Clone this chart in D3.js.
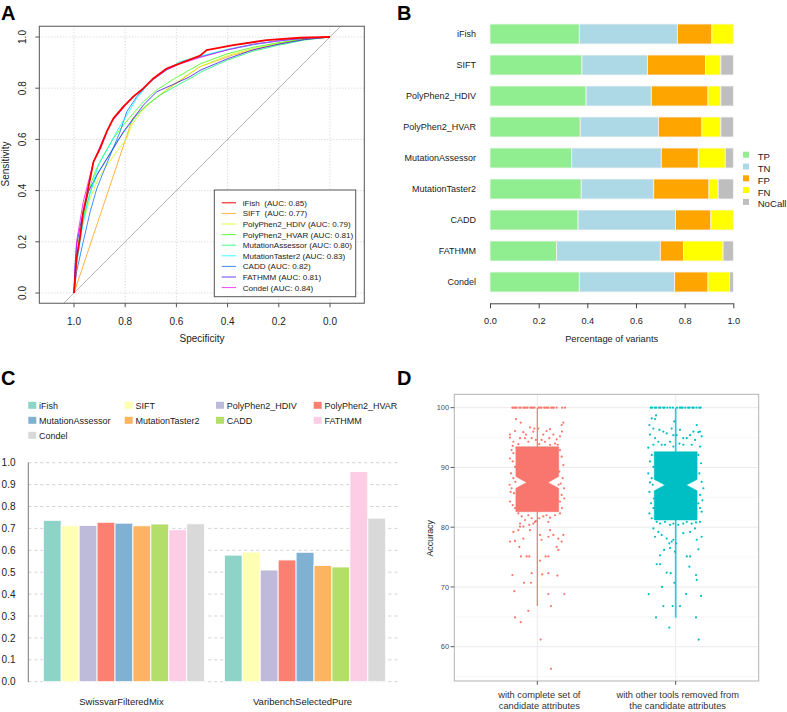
<!DOCTYPE html>
<html><head><meta charset="utf-8">
<script src="https://cdn.jsdelivr.net/npm/d3@7/dist/d3.min.js"></script>
<style>body{margin:0;background:#fff}svg{display:block;font-family:"Liberation Sans",Arial,sans-serif}</style>
</head><body><svg id="c" width="787" height="712"></svg>
<script>
// ---------------- DATA ----------------
// Panel A: ROC curves [specificity, sensitivity]
const rocTools = ["iFish","SIFT","PolyPhen2_HDIV","PolyPhen2_HVAR","MutationAssessor","MutationTaster2","CADD","FATHMM","Condel"];
const rocAUC = ["0.85","0.77","0.79","0.81","0.80","0.83","0.82","0.81","0.84"];
const rocIfish = [[1,0],[0.99,0.134],[0.977,0.213],[0.964,0.317],[0.95,0.382],[0.924,0.512],[0.898,0.565],[0.872,0.63],[0.846,0.682],[0.807,0.728],[0.768,0.767],[0.729,0.799],[0.69,0.838],[0.638,0.877],[0.586,0.897],[0.507,0.927],[0.482,0.949],[0.378,0.968],[0.247,0.988],[0.117,0.997],[0,1]];
const rocSift = [[1,0],[0.771,0.682],[0.72,0.73],[0.638,0.793],[0.508,0.884],[0.378,0.93],[0.247,0.963],[0.117,0.99],[0,1]];
const rocHdiv = [[1,0],[0.99,0.147],[0.964,0.278],[0.937,0.369],[0.905,0.447],[0.872,0.499],[0.833,0.552],[0.794,0.604],[0.775,0.656],[0.742,0.702],[0.69,0.754],[0.625,0.805],[0.56,0.85],[0.507,0.884],[0.4,0.928],[0.3,0.955],[0.2,0.975],[0.1,0.992],[0,1]];
const rocHvar = [[1,0],[0.99,0.16],[0.97,0.265],[0.944,0.395],[0.918,0.473],[0.885,0.538],[0.846,0.604],[0.807,0.656],[0.768,0.702],[0.729,0.747],[0.677,0.793],[0.612,0.835],[0.547,0.872],[0.507,0.895],[0.4,0.935],[0.3,0.96],[0.2,0.978],[0.1,0.993],[0,1]];
const rocMa = [[1,0],[0.99,0.134],[0.964,0.291],[0.937,0.395],[0.905,0.473],[0.872,0.525],[0.833,0.591],[0.794,0.643],[0.755,0.695],[0.716,0.734],[0.664,0.773],[0.599,0.81],[0.534,0.845],[0.507,0.862],[0.4,0.91],[0.3,0.945],[0.2,0.968],[0.1,0.988],[0,1]];
const rocMt2 = [[1,0],[0.99,0.108],[0.97,0.239],[0.95,0.343],[0.924,0.434],[0.905,0.5],[0.872,0.558],[0.833,0.63],[0.794,0.695],[0.755,0.76],[0.703,0.825],[0.651,0.864],[0.586,0.904],[0.507,0.925],[0.4,0.952],[0.3,0.972],[0.2,0.986],[0.1,0.995],[0,1]];
const rocCadd = [[1,0],[0.99,0.082],[0.964,0.2],[0.937,0.317],[0.911,0.408],[0.885,0.473],[0.853,0.552],[0.82,0.63],[0.794,0.708],[0.755,0.767],[0.703,0.825],[0.638,0.871],[0.573,0.904],[0.507,0.923],[0.4,0.95],[0.3,0.97],[0.2,0.985],[0.1,0.995],[0,1]];
const rocFathmm = [[1,0],[0.996,0.108],[0.99,0.186],[0.97,0.291],[0.944,0.395],[0.911,0.46],[0.879,0.512],[0.846,0.565],[0.807,0.63],[0.768,0.682],[0.729,0.734],[0.677,0.786],[0.612,0.815],[0.547,0.845],[0.507,0.87],[0.4,0.915],[0.3,0.95],[0.2,0.972],[0.1,0.99],[0,1]];
const rocCondel = [[1,0],[0.99,0.2],[0.964,0.356],[0.924,0.512],[0.885,0.604],[0.853,0.669],[0.82,0.708],[0.768,0.77],[0.729,0.8],[0.69,0.835],[0.638,0.872],[0.586,0.895],[0.507,0.92],[0.4,0.95],[0.3,0.972],[0.2,0.985],[0.1,0.995],[0,1]];
const rocCurves = [rocIfish,rocSift,rocHdiv,rocHvar,rocMa,rocMt2,rocCadd,rocFathmm,rocCondel];
const rocColors = ["#FF0000","#FF9900","#CCFF00","#33FF00","#00FF66","#00FFFF","#0066FF","#3300FF","#EE00FF"];
const rocTicks = [0,0.2,0.4,0.6,0.8,1.0];

// Panel B: stacked proportions
const bTools = ["iFish","SIFT","PolyPhen2_HDIV","PolyPhen2_HVAR","MutationAssessor","MutationTaster2","CADD","FATHMM","Condel"];
const bTP     = [0.367,0.378,0.395,0.371,0.336,0.375,0.362,0.273,0.367];
const bTN     = [0.403,0.269,0.268,0.321,0.368,0.298,0.400,0.427,0.392];
const bFP     = [0.142,0.239,0.233,0.179,0.152,0.227,0.146,0.095,0.137];
const bFN     = [0.088,0.063,0.053,0.078,0.111,0.038,0.092,0.163,0.089];
const bNoCall = [0.000,0.051,0.051,0.051,0.033,0.062,0.000,0.042,0.015];
const bKeys = ["TP","TN","FP","FN","NoCall"];
const bColors = ["#90EE90","#ADD8E6","#FFA500","#FFFF00","#BEBEBE"];
const bTicks = [0,0.2,0.4,0.6,0.8,1.0];

// Panel C: grouped bars
const cDatasets = ["SwissvarFilteredMix","VaribenchSelectedPure"];
const cTools = ["iFish","SIFT","PolyPhen2_HDIV","PolyPhen2_HVAR","MutationAssessor","MutationTaster2","CADD","FATHMM","Condel"];
const cSwissvar  = [0.737,0.712,0.714,0.728,0.724,0.712,0.720,0.694,0.721];
const cVaribench = [0.578,0.592,0.510,0.556,0.591,0.531,0.524,0.960,0.747];
const cColors = ["#8DD3C7","#FFFFB3","#BEBADA","#FB8072","#80B1D3","#FDB462","#B3DE69","#FCCDE5","#D9D9D9"];
const cTicks = [0,0.1,0.2,0.3,0.4,0.5,0.6,0.7,0.8,0.9,1.0];

// Panel D: notched boxplots + jittered points
const dGroups = [["with complete set of","candidate attributes"],["with other tools removed from","the candidate attributes"]];
const dColors = ["#F8766D","#00BFC4"];
const dQ1 = [82.6,81.2], dMedian = [87.5,87.05], dQ3 = [93.47,92.63];
const dNotchLo = [86.5,86.1], dNotchHi = [88.5,88.0];
const dWhiskLo = [66.8,64.85], dWhiskHi = [100,100];
const dTicks = [60,70,80,90,100];
const dMinor = [55,65,75,85,95];
const dTop1 = [-0.18,-0.17,-0.16,-0.15,-0.13,-0.12,-0.10,-0.09,-0.08,-0.07,-0.05,-0.04,-0.03,-0.02,0.01,0.02,0.03,0.05,0.06,0.07,0.08,0.10,0.11,0.12,0.14,0.18,0.20];
const dPts1 = [[-0.154,98.1],[-0.12,97.5],[-0.161,96.1],[-0.198,95.5],[-0.053,96.7],[-0.022,96.5],[-0.101,95.9],[-0.082,95.5],[-0.029,96.0],[0.007,96.5],[0.043,95.5],[0.067,96.1],[0.092,96.4],[0.116,95.5],[0.14,94.7],[0.176,97.1],[0.188,97.5],[0.178,96.0],[0.164,95.2],[-0.125,94.9],[-0.089,94.9],[-0.041,94.9],[-0.01,94.6],[0.031,94.6],[0.055,94.3],[0.087,94.9],[0.128,94.0],[-0.173,94.3],[-0.137,93.9],[-0.065,94.3],[0.014,93.9],[0.092,93.8],[0.147,93.8],[-0.178,93.6],[-0.198,95.0],
[-0.186,92.9],[-0.173,92.4],[-0.198,91.5],[-0.178,91.0],[-0.161,90.1],[-0.19,89.0],[-0.173,88.2],[-0.2,87.1],[-0.186,86.5],[-0.169,85.7],[-0.198,84.3],[-0.178,83.7],[-0.161,83.2],[-0.193,85.9],[-0.159,87.6],
[0.164,92.9],[0.176,91.8],[0.188,90.4],[0.159,89.3],[0.183,88.2],[0.169,87.3],[0.193,86.5],[0.176,85.4],[0.164,84.3],[0.195,84.8],[0.178,83.2],[0.154,87.1],
[-0.137,82.3],[-0.113,81.8],[-0.089,81.2],[-0.065,82.0],[-0.041,81.5],[-0.017,80.9],[0.014,81.5],[0.043,81.8],[0.067,82.0],[0.092,81.6],[0.128,82.0],[0.164,82.3],[-0.125,80.6],[-0.101,80.1],[-0.058,80.4],[-0.029,80.6],[-0.01,81.0],[0.08,80.9],[-0.125,80.1],[-0.173,79.2],[-0.137,79.5],[-0.101,78.1],[-0.161,77.7],[-0.198,77.6],[-0.13,76.7],[0.019,78.7],[0.031,77.9],[0.092,79.5],[0.116,78.7],[0.152,78.1],[0.188,78.7],[0.176,77.6],[0.14,76.7],[0.152,76.2],[0.08,78.4],[-0.053,79.5],[-0.077,75.1],[-0.118,75.1],[-0.058,75.1],[0.019,74.4],[0.06,75.1],[0.08,75.1],[-0.18,72.0],[-0.096,70.7],[-0.046,70.7],[-0.041,72.3],[0.036,72.1],[0.08,72.3],[0.145,71.9],[-0.166,69.3],[0.08,68.8],[0.195,68.8],[0.099,66.8],[-0.065,66.0],[-0.161,64.9],[-0.12,64.1],[0.024,61.2],[0.099,56.3]];
const dTop2 = [-0.18,-0.17,-0.15,-0.14,-0.12,-0.11,-0.09,-0.08,-0.06,-0.04,-0.02,0.01,0.03,0.04,0.05,0.07,0.09,0.10,0.12,0.13,0.15,0.17,0.18];
const dPts2 = [[-0.173,98.2],[-0.142,98.7],[-0.149,98.1],[-0.19,97.1],[-0.161,96.5],[-0.118,96.3],[-0.089,96.0],[-0.01,97.7],[-0.029,96.5],[-0.065,95.7],[-0.186,95.5],[-0.149,94.9],[-0.125,94.3],[-0.101,93.8],[-0.041,94.3],[-0.017,95.4],[0.007,95.4],[0.031,96.3],[0.055,94.9],[0.08,94.9],[0.104,95.4],[0.128,96.0],[0.152,97.1],[0.164,95.9],[0.176,96.0],[0.14,94.6],[0.176,93.5],[0.116,93.8],[0.055,93.8],[-0.161,93.8],[-0.198,93.3],[-0.077,93.8],[-0.017,93.5],[0.027,94.0],[0.188,95.2],
[-0.173,92.1],[-0.186,91.0],[-0.161,90.1],[-0.198,89.0],[-0.173,88.2],[-0.186,87.5],[-0.166,87.1],[-0.19,85.9],[-0.157,84.8],[-0.178,84.0],[-0.161,83.2],[-0.19,82.3],[-0.173,81.5],
[0.164,92.1],[0.183,90.7],[0.171,89.0],[0.188,87.6],[0.2,86.5],[0.176,85.4],[0.193,84.5],[0.164,84.0],[0.176,83.2],[0.188,82.6],
[-0.137,80.9],[-0.113,80.6],[-0.077,80.9],[-0.041,80.4],[-0.017,80.6],[0.019,80.4],[0.055,80.6],[0.08,80.9],[0.116,80.6],[0.147,80.8],[0.176,80.9],[-0.161,79.8],[-0.125,79.2],[-0.101,78.7],[-0.065,78.1],[-0.029,77.6],[0.002,77.3],[-0.149,78.4],[0.055,79.0],[0.104,79.2],[0.14,79.8],[0.152,77.9],[0.188,78.4],[-0.017,77.9],[-0.046,77.3],[-0.113,75.3],[-0.084,76.2],[-0.041,76.5],[-0.005,75.9],[0.08,75.1],[0.104,75.1],[0.164,76.3],[-0.137,73.8],[-0.113,73.8],[-0.065,72.4],[-0.036,72.3],[0.099,73.4],[0.147,72.0],[0.152,71.2],[-0.01,70.7],[-0.099,70.0],[-0.195,68.8],[0.075,68.8],[0.183,68.5],[-0.089,66.8],[-0.022,66.8],[0.031,66.8],[-0.142,64.9],[0.147,64.9],[-0.046,63.2],[0.166,61.2]];

// ---------------- DRAW ----------------
const svg = d3.select("#c");
const FONT = '"Liberation Sans",Arial,sans-serif';
function panelLabel(t,x,y){svg.append("text").attr("x",x).attr("y",y).attr("font-size",20).attr("font-weight","bold").attr("fill","#000").text(t);}
panelLabel("A",1,20); panelLabel("B",397,20); panelLabel("C",1,385); panelLabel("D",397,385);

// ===== Panel A =====
(function(){
  const g = svg.append("g");
  const x = d3.scaleLinear().domain([1,0]).range([74,330]);
  const y = d3.scaleLinear().domain([0,1]).range([293,37]);
  const bx0 = x(1.1355), bx1 = x(-0.134), by0 = y(1.042), by1 = y(-0.04);
  svg.append("defs").append("clipPath").attr("id","clipA").append("rect")
    .attr("x",bx0).attr("y",by0).attr("width",bx1-bx0).attr("height",by1-by0);
  g.selectAll(".gv").data(rocTicks).join("line").attr("x1",d=>x(d)).attr("x2",d=>x(d))
    .attr("y1",by0).attr("y2",by1).attr("stroke","#cfcfcf").attr("stroke-dasharray","1,2");
  g.selectAll(".gh").data(rocTicks).join("line").attr("y1",d=>y(d)).attr("y2",d=>y(d))
    .attr("x1",bx0).attr("x2",bx1).attr("stroke","#cfcfcf").attr("stroke-dasharray","1,2");
  g.append("line").attr("clip-path","url(#clipA)")
    .attr("x1",x(1.3)).attr("y1",y(-0.3)).attr("x2",x(-0.3)).attr("y2",y(1.3))
    .attr("stroke","#b0b0b0").attr("stroke-width",0.9);
  const line = d3.line().x(d=>x(d[0])).y(d=>y(d[1]));
  const order = [1,2,3,4,7,6,5,8,0];
  order.forEach(i=>{
    g.append("path").attr("d",line(rocCurves[i])).attr("fill","none")
      .attr("stroke",rocColors[i]).attr("stroke-opacity",i===0?1:0.75)
      .attr("stroke-width",i===0?1.8:1).attr("stroke-linejoin","round");
  });
  g.append("rect").attr("x",bx0).attr("y",by0).attr("width",bx1-bx0).attr("height",by1-by0)
    .attr("fill","none").attr("stroke","#555").attr("stroke-width",1);
  // axes
  g.selectAll(".tb").data(rocTicks).join("line").attr("x1",d=>x(d)).attr("x2",d=>x(d))
    .attr("y1",by1).attr("y2",by1+4).attr("stroke","#555");
  g.selectAll(".tbl").data(rocTicks).join("text").attr("x",d=>x(d)).attr("y",324.5)
    .attr("text-anchor","middle").attr("font-size",10).attr("fill","#222").text(d=>d3.format(".1f")(d));
  g.selectAll(".tl").data(rocTicks).join("line").attr("y1",d=>y(d)).attr("y2",d=>y(d))
    .attr("x1",bx0).attr("x2",bx0-4).attr("stroke","#555");
  g.selectAll(".tll").data(rocTicks).join("text")
    .attr("transform",d=>`translate(26.2,${y(d)}) rotate(-90)`)
    .attr("text-anchor","middle").attr("font-size",10).attr("fill","#222").text(d=>d3.format(".1f")(d));
  g.append("text").attr("x",202).attr("y",341.5).attr("text-anchor","middle").attr("font-size",10).attr("fill","#222").text("Specificity");
  g.append("text").attr("transform","translate(8.5,164) rotate(-90)").attr("text-anchor","middle").attr("font-size",10).attr("fill","#222").text("Sensitivity");
  // legend
  const lg = g.append("g");
  lg.append("rect").attr("x",214.3).attr("y",190).attr("width",141.4).attr("height",106.7)
    .attr("fill","#fff").attr("stroke","#555").attr("stroke-width",1);
  rocTools.forEach((t,i)=>{
    const yy = 202.8 + i*10.6;
    lg.append("line").attr("x1",221.7).attr("x2",236).attr("y1",yy).attr("y2",yy)
      .attr("stroke",rocColors[i]).attr("stroke-opacity",i===0?1:0.75).attr("stroke-width",1);
    const sep = (i<2) ? "  " : " ";
    lg.append("text").attr("x",242.7).attr("y",yy+3).attr("font-size",8.1).attr("fill","#222")
      .attr("xml:space","preserve").style("white-space","pre").text(t+sep+"(AUC: "+rocAUC[i]+")");
  });
})();

// ===== Panel B =====
(function(){
  const g = svg.append("g");
  const x = d3.scaleLinear().domain([0,1]).range([490,733.3]);
  const y = d3.scaleBand().domain(bTools).range([18.5,297.5]).paddingInner(0.355).paddingOuter(0.1775);
  const rows = bTools.map((t,i)=>({tool:t,TP:bTP[i],TN:bTN[i],FP:bFP[i],FN:bFN[i],NoCall:bNoCall[i]}));
  const series = d3.stack().keys(bKeys)(rows);
  series.forEach((s,k)=>{
    g.selectAll(null).data(s).join("rect")
      .attr("x",d=>x(d[0])).attr("width",d=>Math.max(0,x(d[1])-x(d[0])))
      .attr("y",d=>y(d.data.tool)).attr("height",y.bandwidth())
      .attr("fill",bColors[k]).attr("stroke","#f4f4f4").attr("stroke-width",0.8);
  });
  g.selectAll(".lab").data(bTools).join("text").attr("x",476).attr("y",d=>y(d)+y.bandwidth()/2+3.2)
    .attr("text-anchor","end").attr("font-size",9).attr("fill","#222").text(d=>d);
  const ax = g.append("g").attr("transform","translate(0,303.3)")
    .call(d3.axisBottom(x).tickValues(bTicks).tickFormat(d3.format(".1f")).tickSize(5).tickPadding(9).tickSizeOuter(0));
  ax.select(".domain").attr("stroke","#444");
  ax.selectAll(".tick line").attr("stroke","#444");
  ax.selectAll("text").attr("font-size",9.2).attr("fill","#222").attr("font-family",FONT);
  g.append("text").attr("x",611.7).attr("y",341.5).attr("text-anchor","middle").attr("font-size",9.3).attr("fill","#222").text("Percentage of variants");
  bKeys.forEach((k,i)=>{
    const yy = 156.7 + i*11.8;
    g.append("rect").attr("x",743).attr("y",yy-5).attr("width",6).attr("height",6).attr("fill",bColors[i]);
    g.append("text").attr("x",757.7).attr("y",yy+3.4).attr("font-size",9.6).attr("fill","#222").text(k);
  });
})();

// ===== Panel C =====
(function(){
  const g = svg.append("g");
  const y = d3.scaleLinear().domain([0,1]).range([681.7,462.7]);
  const x0 = d3.scaleBand().domain(cDatasets).range([28.8,400.2]).paddingInner(0.109).paddingOuter(0.08);
  const x1 = d3.scaleBand().domain(cTools).range([0,x0.bandwidth()]);
  g.selectAll(".grid").data(cTicks).join("line").attr("x1",28.3).attr("x2",398)
    .attr("y1",d=>y(d)).attr("y2",d=>y(d)).attr("stroke","#cccccc").attr("stroke-width",0.9).attr("stroke-dasharray","3,3");
  const vals = [cSwissvar,cVaribench];
  cDatasets.forEach((ds,j)=>{
    g.selectAll(null).data(cTools).join("rect")
      .attr("x",t=>x0(ds)+x1(t)).attr("width",x1.bandwidth())
      .attr("y",(t,i)=>y(vals[j][i])).attr("height",(t,i)=>y(0)-y(vals[j][i]))
      .attr("fill",(t,i)=>cColors[i]).attr("stroke","#fff").attr("stroke-width",0.9);
  });
  g.append("line").attr("x1",28.3).attr("x2",28.3).attr("y1",462.5).attr("y2",682).attr("stroke","#777").attr("stroke-width",1);
  g.selectAll(".tl").data(cTicks).join("text").attr("x",15.5).attr("y",d=>y(d)+3.6)
    .attr("text-anchor","end").attr("font-size",10).attr("fill","#222").text(d=>d3.format(".1f")(d));
  g.selectAll(".cl").data(cDatasets).join("text").attr("x",d=>x0(d)+x0.bandwidth()/2-2.5).attr("y",704.5)
    .attr("text-anchor","middle").attr("font-size",9.5).attr("fill","#222").text(d=>d);
  const colX = [28.3,124.7,216,313.7];
  cTools.forEach((t,i)=>{
    const r = Math.floor(i/4), c = i%4;
    const yy = 405.3 + r*15;
    g.append("rect").attr("x",colX[c]).attr("y",yy-3.5).attr("width",8).attr("height",7).attr("fill",cColors[i]);
    g.append("text").attr("x",colX[c]+10.7).attr("y",yy+3.3).attr("font-size",9).attr("fill","#222").text(t);
  });
})();

// ===== Panel D =====
(function(){
  const g = svg.append("g");
  const x = d3.scaleLinear().domain([0.4,2.6]).range([454.3,758.7]);
  const y = d3.scaleLinear().domain([54.26,102.24]).range([681,394.3]);
  g.append("rect").attr("x",454.3).attr("y",394.3).attr("width",304.4).attr("height",286.7).attr("fill","#fff");
  g.selectAll(".mn").data(dMinor).join("line").attr("x1",454.3).attr("x2",758.7)
    .attr("y1",d=>y(d)).attr("y2",d=>y(d)).attr("stroke","#f4f4f4").attr("stroke-width",0.6);
  g.selectAll(".mj").data(dTicks).join("line").attr("x1",454.3).attr("x2",758.7)
    .attr("y1",d=>y(d)).attr("y2",d=>y(d)).attr("stroke","#ebebeb").attr("stroke-width",1);
  g.selectAll(".vx").data([1,2]).join("line").attr("x1",d=>x(d)).attr("x2",d=>x(d))
    .attr("y1",394.3).attr("y2",681).attr("stroke","#ebebeb").attr("stroke-width",1);
  const w = 0.31;
  const tops = [dTop1,dTop2], pts = [dPts1,dPts2];
  [0,1].forEach(k=>{
    const cx = k+1, col = dColors[k];
    g.append("line").attr("x1",x(cx)).attr("x2",x(cx)).attr("y1",y(dWhiskLo[k])).attr("y2",y(dWhiskHi[k]))
      .attr("stroke",col).attr("stroke-width",k===0?1.2:1.7).attr("stroke-opacity",k===0?1:0.8);
    const all = tops[k].map(d=>[d,100]).concat(pts[k]);
    g.selectAll(null).data(all).join("circle").attr("cx",d=>x(cx+d[0])).attr("cy",d=>y(d[1]))
      .attr("r",1.1).attr("fill",col);
    const xl = x(cx-w/2), xr = x(cx+w/2), nl = x(cx-w/4), nr = x(cx+w/4);
    const p = d3.path();
    p.moveTo(xl,y(dQ3[k])); p.lineTo(xr,y(dQ3[k])); p.lineTo(xr,y(dNotchHi[k]));
    p.lineTo(nr,y(dMedian[k])); p.lineTo(xr,y(dNotchLo[k])); p.lineTo(xr,y(dQ1[k]));
    p.lineTo(xl,y(dQ1[k])); p.lineTo(xl,y(dNotchLo[k])); p.lineTo(nl,y(dMedian[k]));
    p.lineTo(xl,y(dNotchHi[k])); p.closePath();
    g.append("path").attr("d",p.toString()).attr("fill",col).attr("stroke",col).attr("stroke-width",0.5);
  });
  g.append("rect").attr("x",454.3).attr("y",394.3).attr("width",304.4).attr("height",286.7)
    .attr("fill","none").attr("stroke","#b3b3b3").attr("stroke-width",1);
  g.selectAll(".yt").data(dTicks).join("line").attr("x1",450.5).attr("x2",454.3)
    .attr("y1",d=>y(d)).attr("y2",d=>y(d)).attr("stroke","#333").attr("stroke-width",0.8);
  g.selectAll(".ytl").data(dTicks).join("text").attr("x",449).attr("y",d=>y(d)+2.7)
    .attr("text-anchor","end").attr("font-size",7.4).attr("fill","#4d4d4d").text(d=>d);
  g.selectAll(".xt").data([1,2]).join("line").attr("x1",d=>x(d)).attr("x2",d=>x(d))
    .attr("y1",681).attr("y2",684.8).attr("stroke","#333").attr("stroke-width",0.8);
  dGroups.forEach((lines,k)=>{
    lines.forEach((l,j)=>{
      g.append("text").attr("x",x(k+1)+2).attr("y",697.5+j*11.4).attr("text-anchor","middle")
        .attr("font-size",9.3).attr("fill","#333").text(l);
    });
  });
  g.append("text").attr("transform","translate(433,538.3) rotate(-90)").attr("text-anchor","middle")
    .attr("font-size",8.9).attr("fill","#222").text("Accuracy");
})();
</script></body></html>
